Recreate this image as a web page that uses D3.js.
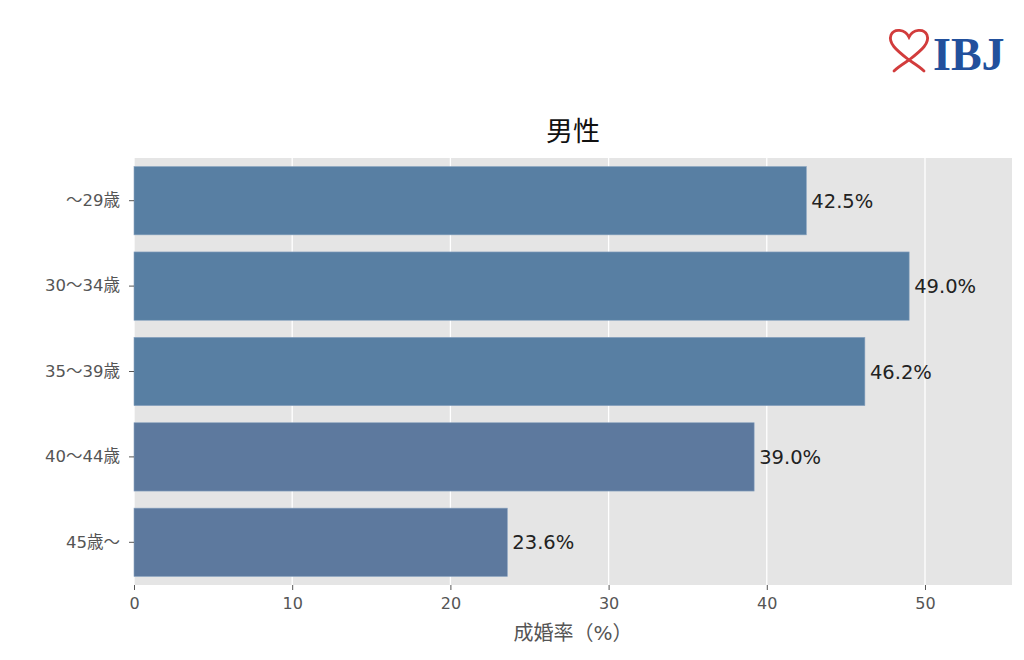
<!DOCTYPE html>
<html><head><meta charset="utf-8">
<script src="https://cdn.jsdelivr.net/npm/d3@7"></script>
<style>body{margin:0;background:#fff;} svg{display:block;}</style>
</head><body>
<svg id="c" width="1024" height="660"></svg>
<script>
const categories = ["～29歳","30～34歳","35～39歳","40～44歳","45歳～"];
const values = [42.5, 49.0, 46.2, 39.2, 23.6];
const valueLabels = ["42.5%","49.0%","46.2%","39.0%","23.6%"];
const barColors = ["#587fa3","#587fa3","#587fa3","#5d799e","#5d799e"];
const xTicks = [0,10,20,30,40,50];
const title = "男性";
const xLabel = "成婚率（%）";

const svg = d3.select("#c");
const L=134, R=1012, T=158, B=585;
const font = "'DejaVu Sans','Noto Sans CJK JP',sans-serif";
const cjk = "'Noto Sans CJK JP','Noto Sans',sans-serif";
const x = d3.scaleLinear().domain([0,55.5]).range([L,R]);
const y = d3.scaleBand().domain(categories).range([T,B]).paddingInner(0.2).paddingOuter(0.1);

svg.append("rect").attr("x",L).attr("y",T).attr("width",R-L).attr("height",B-T).attr("fill","#e5e5e5");
svg.append("g").selectAll("line").data(xTicks).join("line")
  .attr("x1",d=>x(d)).attr("x2",d=>x(d)).attr("y1",T).attr("y2",B)
  .attr("stroke","#fff").attr("stroke-width",1.3);

svg.append("g").selectAll("rect").data(values).join("rect")
  .attr("x",x(0)).attr("y",(d,i)=>y(categories[i]))
  .attr("width",d=>x(d)-x(0)).attr("height",y.bandwidth())
  .attr("fill",(d,i)=>barColors[i]).attr("stroke","#8aa4c0").attr("stroke-width",0.6);

svg.append("g").selectAll("text").data(values).join("text")
  .attr("x",d=>x(d)+5).attr("y",(d,i)=>y(categories[i])+y.bandwidth()/2)
  .attr("dy","0.36em").attr("font-family",font).attr("font-size",19.5).attr("fill","#222")
  .text((d,i)=>valueLabels[i]);

// x axis
const xa = svg.append("g").attr("transform",`translate(0,${B})`)
  .call(d3.axisBottom(x).tickValues(xTicks).tickSize(5).tickPadding(8));
xa.select(".domain").remove();
xa.selectAll("line").attr("stroke","#555");
xa.selectAll("text").attr("font-family",font).attr("font-size",16).attr("fill","#555");

// y axis
const ya = svg.append("g").attr("transform",`translate(${L},0)`)
  .call(d3.axisLeft(y).tickSize(5).tickPadding(9));
ya.select(".domain").remove();
ya.selectAll("line").attr("stroke","#555");
ya.selectAll("text").attr("font-family",font).attr("font-size",16.5).attr("fill","#555");

svg.append("text").attr("x",(L+R)/2).attr("y",141).attr("text-anchor","middle")
  .attr("font-family",cjk).attr("font-size",27).attr("fill","#111").text(title);
svg.append("text").attr("x",(L+R)/2).attr("y",640).attr("text-anchor","middle")
  .attr("font-family",font).attr("font-size",20).attr("fill","#555").text(xLabel);

// logo
const lg = svg.append("g");
lg.append("path").attr("d","M909,60 C896,50 888,43 891,35 C894,28 905,29 909,37 C913,29 924,28 927,35 C930,43 922,50 909,60 M909,60 C903,64 898,67 894,71 M909,60 C915,64 920,67 924,71")
  .attr("fill","none").attr("stroke","#d23c3c").attr("stroke-width",2.8).attr("stroke-linecap","round");
lg.append("text").attr("x",933).attr("y",70).attr("font-family","'Liberation Serif',serif")
  .attr("font-weight","bold").attr("font-size",46).attr("fill","#22509c").text("IBJ");
</script>
</body></html>
